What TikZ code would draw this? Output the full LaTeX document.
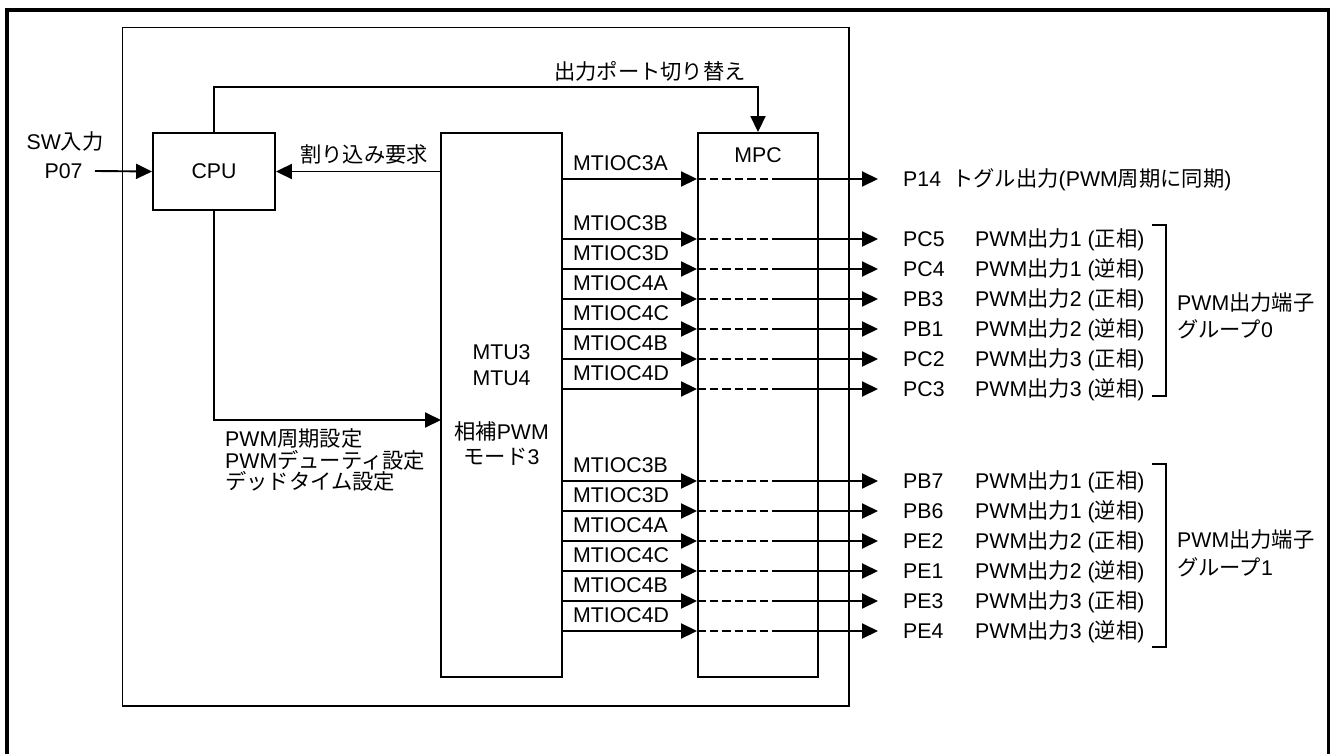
\documentclass[tikz,border=0pt]{standalone}
\usepackage{fontspec}
\setmainfont{Liberation Sans}
\newfontfamily\jp{Noto Sans CJK JP}
\newcommand\J[1]{{\jp #1}}
\usetikzlibrary{arrows.meta}
\tikzset{
  ln/.style={line width=1.9pt},
  arr/.style={ln,-{Triangle[length=16pt,width=15pt]}},
  dsh/.style={line width=2.3pt,dash pattern=on 8.5pt off 4pt},
  box/.style={draw,line width=1.9pt,inner sep=0pt},
  txt/.style={inner sep=0pt,text height=15pt,text depth=0pt,font=\fontsize{21.3}{25}\selectfont},
  lt/.style={txt,anchor=west},
}
\begin{document}
\begin{tikzpicture}[x=1pt,y=-1pt]
\useasboundingbox (0,0) rectangle (1330,754);
% outer frame
\draw[line width=3.6pt] (7,800) -- (7,10.3) -- (1328.5,10.3) -- (1328.5,800);
% inner frame
\node[box,minimum width=726.5pt,minimum height=678.5pt] (inner) at (485.75,366.75) {};
% boxes
\node[box,minimum width=122pt,minimum height=77pt,txt] (cpu) at (214,171.5) {};
\node[txt] (cputxt) at (214,171.5) {CPU};
\node[box,minimum width=121pt,minimum height=544pt] (mtu) at (501.5,405) {};
\node[box,minimum width=120pt,minimum height=544pt] (mpc) at (758,405) {};
\node[txt] (mpctxt) at (758,155) {MPC};
\node[txt] (m1) at (501.5,352) {MTU3};
\node[txt] (m2) at (501.5,378) {MTU4};
\node[txt] (m3) at (501.5,432) {\J{相補}PWM};
\node[txt] (m4) at (501.5,457) {\J{モード}3};
% inputs
\node[txt] (sw) at (65,142) {SW\J{入力}};
\node[txt] (p07) at (63.5,171) {P07};
\coordinate (p07end) at (95,171);
\draw[arr] (p07end) -- (cpu.west);
\draw[arr] (cpu.east -| mtu.west) -- (cpu.east);
\node[txt] (irq) at (364,155) {\J{割り込み要求}};
\draw[arr] (cpu.north) -- ++(0,-45) -| (mpc.north);
\node[txt] (swp) at (650,72) {\J{出力ポート切り替え}};
\coordinate (mtuin) at (441,420);
\draw[arr] (cpu.south) |- (mtuin);
\node[lt] (s1) at (225,439) {PWM\J{周期設定}};
\node[lt] (s2) at (225,461) {PWM\J{デューティ設定}};
\node[lt] (s3) at (225,482) {\J{デッドタイム設定}};
% signals
\foreach \y/\sig/\port/\desc [count=\i] in {
  179/MTIOC3A/P14/{\J{トグル出力}(PWM\J{周期に同期})},
  239/MTIOC3B/PC5/{PWM\J{出力}1 (\J{正相})},
  269/MTIOC3D/PC4/{PWM\J{出力}1 (\J{逆相})},
  299/MTIOC4A/PB3/{PWM\J{出力}2 (\J{正相})},
  329/MTIOC4C/PB1/{PWM\J{出力}2 (\J{逆相})},
  359/MTIOC4B/PC2/{PWM\J{出力}3 (\J{正相})},
  389/MTIOC4D/PC3/{PWM\J{出力}3 (\J{逆相})},
  481/MTIOC3B/PB7/{PWM\J{出力}1 (\J{正相})},
  511/MTIOC3D/PB6/{PWM\J{出力}1 (\J{逆相})},
  541/MTIOC4A/PE2/{PWM\J{出力}2 (\J{正相})},
  571/MTIOC4C/PE1/{PWM\J{出力}2 (\J{逆相})},
  601/MTIOC4B/PE3/{PWM\J{出力}3 (\J{正相})},
  631/MTIOC4D/PE4/{PWM\J{出力}3 (\J{逆相})}} {
  \coordinate (src\i) at (mtu.east |- 0,\y);
  \coordinate (dst\i) at (mpc.west |- 0,\y);
  \coordinate (sw\i) at (774,\y);
  \coordinate (tip\i) at (878,\y);
  \node[lt] (sig\i) at (573,\y-16) {\sig};
  \draw[arr] (src\i) -- (dst\i);
  \draw[dsh] (dst\i) -- (sw\i);
  \draw[arr] (sw\i) -- (tip\i);
  \node[lt] (port\i) at (903,\y) {\port};
  \ifnum\i=1
    \node[lt] (desc\i) at (952,\y) {\desc};
  \else
    \node[lt] (desc\i) at (975,\y) {\desc};
  \fi
}
% brackets
\coordinate (b0t) at (1152,225);
\coordinate (b0b) at (1152,396);
\draw[ln] (b0t) -- ++(14,0) |- (b0b);
\coordinate (b1t) at (1152,464);
\coordinate (b1b) at (1152,647);
\draw[ln] (b1t) -- ++(14,0) |- (b1b);
\node[lt] (g0a) at (1177,303) {PWM\J{出力端子}};
\node[lt] (g0b) at (1177,330) {\J{グループ}0};
\node[lt] (g1a) at (1177,540) {PWM\J{出力端子}};
\node[lt] (g1b) at (1177,568) {\J{グループ}1};
\end{tikzpicture}
\end{document}
